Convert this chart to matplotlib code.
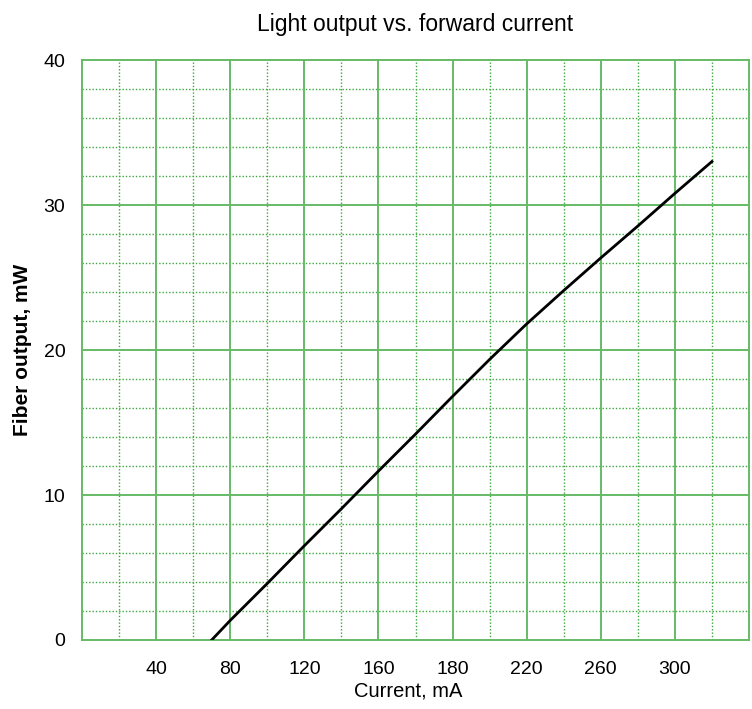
import numpy as np
import matplotlib
matplotlib.use("Agg")
from matplotlib import pyplot as plt

# current in grid positions (each major column = 40), output in mW
current = [70, 80, 100, 120, 140, 160, 180, 200, 220, 240, 260, 280, 300, 320, 340]
power = [0.0, 1.35, 3.9, 6.5, 9.05, 11.65, 14.2, 16.8, 19.35, 21.8, 24.1, 26.35, 28.55, 30.8, 33.0]

xtick_pos = [40, 80, 120, 160, 200, 240, 280, 320]
xtick_labels = ['40', '80', '120', '160', '180', '220', '260', '300']
ytick_pos = [0, 10, 20, 30, 40]

plt.rcParams['font.family'] = ['Liberation Sans', 'DejaVu Sans']

fig = plt.figure(figsize=(7.52, 7.09), dpi=100)
ax = fig.add_axes([82/752, 1 - 640/709, (749-82)/752, (640-60)/709])

solid = '#66bb66'
dotted = '#3da63d'
# minor dotted grid
for xv in np.arange(20, 360, 40):
    ax.axvline(xv, color=dotted, lw=1.0, ls=(0, (1, 1.4)), zorder=1)
for yv in np.arange(2, 40, 2):
    if yv % 10:
        ax.axhline(yv, color=dotted, lw=1.0, ls=(0, (1, 1.4)), zorder=1)
# major solid grid
for xv in np.arange(40, 360, 40):
    ax.axvline(xv, color=solid, lw=1.4, zorder=2)
for yv in [10, 20, 30]:
    ax.axhline(yv, color=solid, lw=1.4, zorder=2)

ax.plot(current, power, color='black', lw=2, zorder=3)

ax.set_xlim(0, 360)
ax.set_ylim(0, 40)
ax.set_xticks(xtick_pos)
ax.set_xticklabels(xtick_labels)
ax.set_yticks(ytick_pos)
ax.tick_params(length=0, labelsize=14)
ax.tick_params(axis='x', pad=15)
ax.tick_params(axis='y', pad=12)
for s in ax.spines.values():
    s.set_color(solid)
    s.set_linewidth(1.4)

ax.set_title('Light output vs. forward current', fontsize=16.5, pad=21)
ax.set_xlabel('Current, mA', fontsize=14.5, labelpad=3)
ax.xaxis.set_label_coords(0.489, -0.072)
ax.set_ylabel('Fiber output, mW', fontsize=15, fontweight='bold', labelpad=8)

fig.savefig('out.png', dpi=100)
